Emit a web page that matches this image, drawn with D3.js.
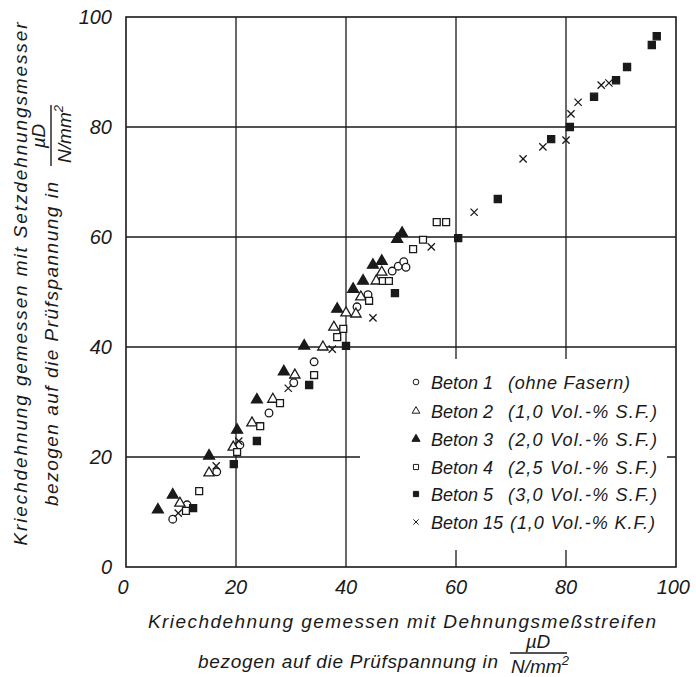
<!DOCTYPE html>
<html lang="de">
<head>
<meta charset="UTF-8">
<title>Kriechdehnung Setzdehnungsmesser vs. DMS</title>
<script src="https://cdnjs.cloudflare.com/ajax/libs/d3/7.8.5/d3.min.js"></script>
<style>
  body { margin: 0; background: #fff; }
  svg text { font-family: "Liberation Sans", "DejaVu Sans", sans-serif; font-style: italic; fill: #1a1a1a; }
</style>
</head>
<body>
<div id="chart"></div>
<script>
// values (x = DMS, y = Setzdehnungsmesser)
const beton1 = [[8.5,8.7],[11.1,11.3],[16.5,17.3],[20.7,22.2],[26,28],[30.5,33.5],[34.2,37.3],
  [42.0,47.3],[44.0,49.5],[48.4,53.8],[49.5,54.7],[50.5,55.5],[50.9,54.5]];
const beton2 = [[9.8,11.6],[15.1,17.1],[19.5,21.8],[22.9,26.2],[26.7,30.5],[30.7,34.9],[35.8,40],
  [37.8,43.6],[40.0,46.2],[41.8,46.0],[42.7,49.1],[45.5,52.0],[46.5,53.6]];
const beton3 = [[5.8,10.4],[8.5,13.1],[15.1,20.2],[20.2,24.9],[23.8,30.4],[28.7,35.5],[32.4,40.2],
  [38.4,46.9],[41.3,50.5],[43.1,52.0],[44.9,54.9],[46.5,55.6],[49.3,59.6],[50.2,60.7]];
const beton4 = [[10.9,10.2],[13.3,13.8],[20.2,20.9],[24.4,25.6],[28,29.8],[34.2,34.9],[38.4,41.8],
  [39.5,43.3],[44.2,48.4],[46.7,52.0],[47.8,52.0],[52.2,57.8],[54.0,59.5],[56.5,62.7],[58.2,62.7]];
const beton5 = [[12.2,10.7],[19.6,18.7],[23.8,22.9],[33.3,33.1],[40,40.2],[48.9,49.8],[60.4,59.8],
  [67.6,66.9],[77.3,77.8],[80.7,80],[85.1,85.5],[89.1,88.5],[91.1,90.9],[95.6,94.9],[96.5,96.5]];
const beton15 = [[9.5,9.8],[16.4,18.4],[20.5,22.9],[29.5,32.5],[37.5,39.6],[44.9,45.3],[55.5,58.2],
  [63.3,64.5],[72.2,74.2],[75.8,76.4],[80.0,77.6],[80.9,82.4],[82.2,84.5],[86.4,87.6],[87.8,88.0]];

const legendNames = ["Beton 1", "Beton 2", "Beton 3", "Beton 4", "Beton 5", "Beton 15"];
const legendNotes = ["(ohne Fasern)", "(1,0 Vol.-% S.F.)", "(2,0 Vol.-% S.F.)",
  "(2,5 Vol.-% S.F.)", "(3,0 Vol.-% S.F.)", "(1,0 Vol.-% K.F.)"];
const tickValues = [0, 20, 40, 60, 80, 100];

const W = 696, H = 677;
const ink = "#1a1a1a";

const x = d3.scaleLinear().domain([0, 100]).range([126, 676]);
const y = d3.scaleLinear().domain([0, 100]).range([567, 17]);

const svg = d3.select("#chart").append("svg")
  .attr("width", W).attr("height", H)
  .style("display", "block")
  .style("background", "#fff");

// grid
const grid = svg.append("g").attr("stroke", ink).attr("stroke-width", 1.3);
tickValues.slice(1, -1).forEach(v => {
  grid.append("line").attr("x1", x(v)).attr("x2", x(v)).attr("y1", y(0)).attr("y2", y(100));
  grid.append("line").attr("x1", x(0)).attr("x2", x(100)).attr("y1", y(v)).attr("y2", y(v));
});

// legend box hides the grid behind it
svg.append("rect").attr("x", 360).attr("y", 359).attr("width", 307).attr("height", 191).attr("fill", "#fff");

// frame
svg.append("rect")
  .attr("x", x(0)).attr("y", y(100))
  .attr("width", x(100) - x(0)).attr("height", y(0) - y(100))
  .attr("fill", "none").attr("stroke", ink).attr("stroke-width", 1.6);

// tick labels
svg.append("g").selectAll("text").data(tickValues).join("text")
  .attr("x", 112).attr("y", d => y(d) + 7)
  .attr("text-anchor", "end").attr("font-size", 20)
  .text(d => d);
svg.append("g").selectAll("text").data(tickValues).join("text")
  .attr("x", d => x(d) - (d === 0 ? 3 : 0)).attr("y", 594)
  .attr("text-anchor", d => d === 100 ? "end" : "middle").attr("font-size", 20)
  .attr("dx", d => d === 100 ? 14 : 0)
  .text(d => d);

// markers
const series = [
  { data: beton1, type: d3.symbolCircle, size: 46, fill: "#fff" },
  { data: beton2, type: d3.symbolTriangle, size: 46, fill: "#fff" },
  { data: beton3, type: d3.symbolTriangle, size: 52, fill: ink },
  { data: beton4, type: d3.symbolSquare, size: 48, fill: "#fff" },
  { data: beton5, type: d3.symbolSquare, size: 50, fill: ink },
  { data: beton15, type: d3.symbolTimes, size: 36, fill: "none" }
];

series.forEach(s => {
  svg.append("g").selectAll("path").data(s.data).join("path")
    .attr("transform", d => `translate(${x(d[0])},${y(d[1])})`)
    .attr("d", d3.symbol().type(s.type).size(s.size))
    .attr("fill", s.fill).attr("stroke", ink).attr("stroke-width", 1.3);
});

// legend
const leg = svg.append("g");
const rowY = [382, 411, 439, 467, 494, 522];
const noteX = [508, 508, 508, 508, 508, 510];
const noteW = [122, 149, 149, 149, 149, 145];
series.forEach((s, i) => {
  leg.append("path")
    .attr("transform", `translate(416,${rowY[i]})`)
    .attr("d", d3.symbol().type(s.type).size(s.size * 0.55))
    .attr("fill", s.fill).attr("stroke", ink).attr("stroke-width", 1);
  leg.append("text").attr("x", 431).attr("y", rowY[i] + 6.5).attr("font-size", 18)
    .text(legendNames[i]);
  leg.append("text").attr("x", noteX[i]).attr("y", rowY[i] + 6.5).attr("font-size", 18)
    .attr("textLength", noteW[i]).attr("lengthAdjust", "spacing")
    .text(legendNotes[i]);
});

// x axis title
svg.append("text").attr("x", 402).attr("y", 628).attr("text-anchor", "middle")
  .attr("font-size", 19).attr("textLength", 508).attr("lengthAdjust", "spacing")
  .text("Kriechdehnung gemessen mit Dehnungsmeßstreifen");
svg.append("text").attr("x", 198).attr("y", 668)
  .attr("font-size", 19).attr("textLength", 300).attr("lengthAdjust", "spacing")
  .text("bezogen auf die Prüfspannung in");
svg.append("text").attr("x", 538).attr("y", 648).attr("text-anchor", "middle")
  .attr("font-size", 19).text("µD");
svg.append("line").attr("x1", 510).attr("x2", 567).attr("y1", 653).attr("y2", 653)
  .attr("stroke", ink).attr("stroke-width", 1.4);
const den = svg.append("text").attr("x", 540).attr("y", 673).attr("text-anchor", "middle").attr("font-size", 19);
den.append("tspan").text("N/mm");
den.append("tspan").attr("dy", -8).attr("font-size", 13).text("2");

// y axis title
svg.append("text").attr("transform", "translate(27,284) rotate(-90)").attr("text-anchor", "middle")
  .attr("font-size", 19).attr("textLength", 523).attr("lengthAdjust", "spacing")
  .text("Kriechdehnung gemessen mit Setzdehnungsmesser");
svg.append("text").attr("transform", "translate(58,506) rotate(-90)")
  .attr("font-size", 19).attr("textLength", 324).attr("lengthAdjust", "spacing")
  .text("bezogen auf die Prüfspannung in");
svg.append("text").attr("transform", "translate(45,136) rotate(-90)").attr("text-anchor", "middle")
  .attr("font-size", 19).text("µD");
svg.append("line").attr("x1", 51).attr("x2", 51).attr("y1", 105).attr("y2", 166)
  .attr("stroke", ink).attr("stroke-width", 1.4);
const yden = svg.append("text").attr("transform", "translate(71,134) rotate(-90)")
  .attr("text-anchor", "middle").attr("font-size", 19);
yden.append("tspan").text("N/mm");
yden.append("tspan").attr("dy", -8).attr("font-size", 13).text("2");
</script>
</body>
</html>
